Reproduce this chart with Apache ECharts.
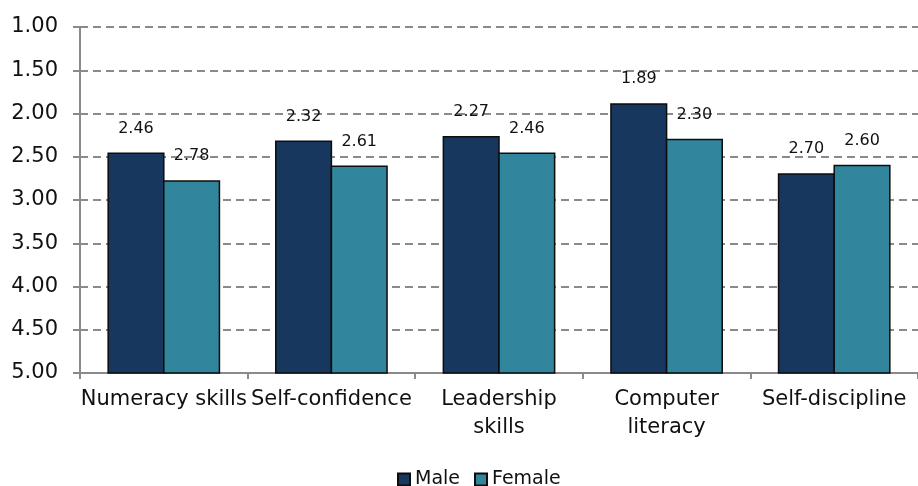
<!DOCTYPE html>
<html>
<head>
<meta charset="utf-8">
<script src="https://cdn.jsdelivr.net/npm/echarts@6/dist/echarts.min.js"></script>
<style>
  html, body { margin: 0; padding: 0; background: #fff; }
  #chart { width: 918px; height: 486px; }
</style>
</head>
<body>
<div id="chart"></div>
<script>
// categories and values (lower score = better, axis runs 1 at top to 5 at bottom)
var categories = ['Numeracy skills', 'Self-confidence', 'Leadership\nskills', 'Computer\nliteracy', 'Self-discipline'];
var male = [2.46, 2.32, 2.27, 1.89, 2.70];
var female = [2.78, 2.61, 2.46, 2.30, 2.60];
var yMin = 1, yMax = 5, yStep = 0.5;

var chart = echarts.init(document.getElementById('chart'));

// bars grow from the bottom of the axis (5.00) up to the value
function barRenderer(side) {
    return function (params, api) {
        var idx = api.value(0);
        var val = api.value(1);
        var top = api.coord([idx, val]);
        var base = api.coord([idx, yMax]);
        var band = api.size([1, 0])[0];
        var w = band * 0.332;
        var x = side < 0 ? top[0] - w : top[0];
        return {
            type: 'rect',
            shape: { x: x, y: top[1], width: w, height: base[1] - top[1] },
            style: { fill: api.visual('color'), stroke: '#0d0d0d', lineWidth: 1.5 },
            textContent: {
                style: {
                    text: val.toFixed(2),
                    fontSize: 16,
                    fontFamily: 'DejaVu Sans',
                    fill: '#111'
                }
            },
            textConfig: { position: 'top', distance: 16 }
        };
    };
}

function toData(arr) {
    var out = [];
    for (var i = 0; i < arr.length; i++) out.push([i, arr[i]]);
    return out;
}

option = {
    animation: false,
    legend: {
        left: 392,
        top: 465,
        itemWidth: 12,
        itemHeight: 12,
        itemGap: 14,
        icon: 'rect',
        textStyle: { fontFamily: 'DejaVu Sans', fontSize: 19, color: '#111' },
        data: ['Male', 'Female']
    },
    grid: {
        left: 80,
        right: -8,
        top: 27,
        bottom: 113
    },
    xAxis: {
        type: 'category',
        data: categories,
        axisLine: { show: true, lineStyle: { color: '#8a8a8a', width: 2 } },
        axisTick: { show: true, length: 6, lineStyle: { color: '#8a8a8a', width: 2 } },
        axisLabel: {
            interval: 0,
            margin: 13,
            fontFamily: 'DejaVu Sans',
            fontSize: 21,
            lineHeight: 28,
            color: '#111'
        }
    },
    yAxis: {
        type: 'value',
        inverse: true,
        min: yMin,
        max: yMax,
        interval: yStep,
        axisLine: { show: true, lineStyle: { color: '#8a8a8a', width: 2 } },
        axisTick: { show: true, length: 7, lineStyle: { color: '#8a8a8a', width: 2 } },
        axisLabel: {
            margin: 22,
            fontFamily: 'DejaVu Sans',
            fontSize: 21,
            color: '#111',
            formatter: function (v) { return v.toFixed(2); }
        },
        splitLine: {
            show: true,
            lineStyle: { color: '#8a8a8a', width: 2, type: [8, 5] }
        }
    },
    series: [
        {
            name: 'Male',
            type: 'custom',
            renderItem: barRenderer(-1),
            itemStyle: { color: '#17375E', borderColor: '#0d0d0d', borderWidth: 1.5 },
            encode: { x: 0, y: 1 },
            data: toData(male)
        },
        {
            name: 'Female',
            type: 'custom',
            renderItem: barRenderer(1),
            itemStyle: { color: '#31859C', borderColor: '#0d0d0d', borderWidth: 1.5 },
            encode: { x: 0, y: 1 },
            data: toData(female)
        }
    ]
};
chart.setOption(option);
</script>
</body>
</html>
